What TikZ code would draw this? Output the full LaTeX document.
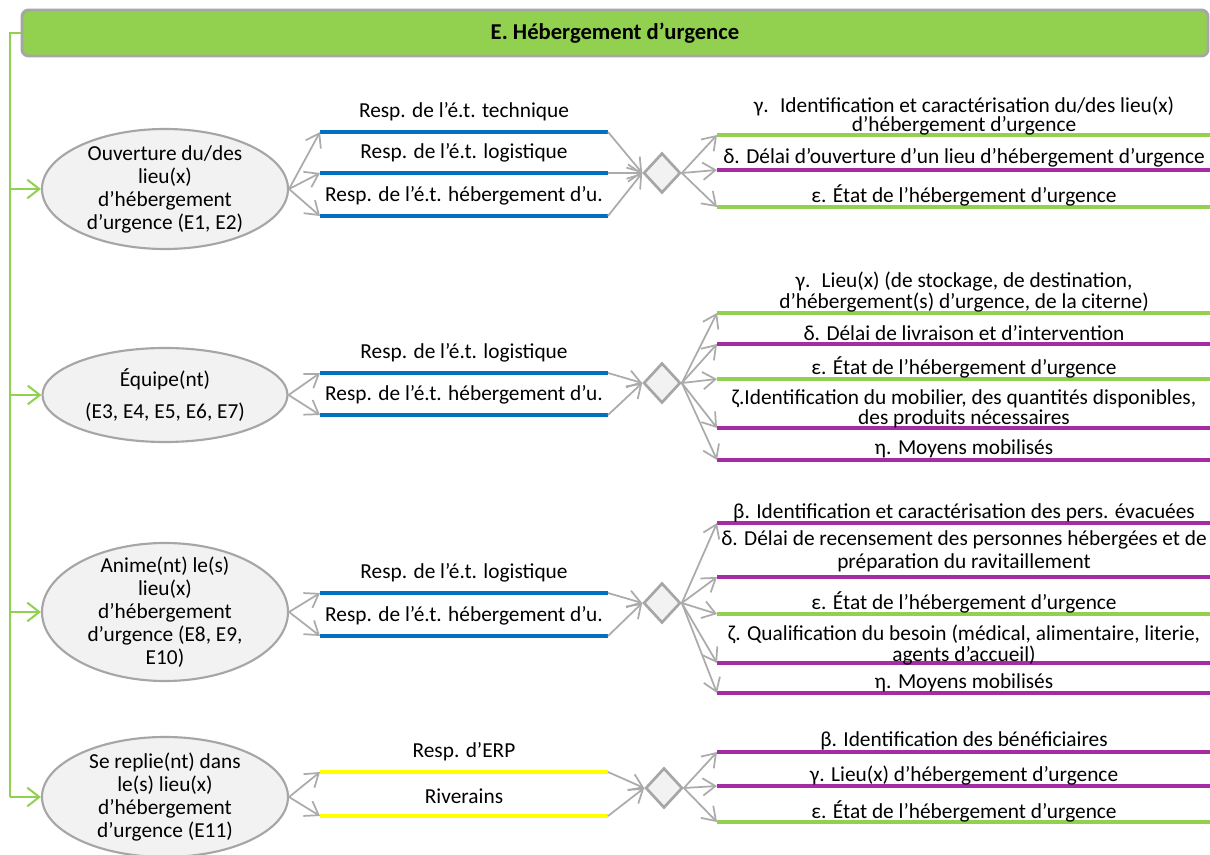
\documentclass[tikz,border=0pt]{standalone}
\usepackage{fontspec}
\setmainfont{Carlito}
\usetikzlibrary{shapes.geometric,arrows.meta}
\definecolor{hgreen}{HTML}{92D050}
\definecolor{hgray}{HTML}{A6A6A6}
\definecolor{agray}{HTML}{ABABAB}
\definecolor{efill}{HTML}{F2F2F2}
\definecolor{lblue}{HTML}{0070C0}
\definecolor{lpurple}{HTML}{A62CA6}
\definecolor{lyellow}{HTML}{FFFF00}
\tikzset{
 ell/.style={ellipse, draw=hgray, line width=1.6pt, fill=efill, inner sep=0pt},
 elbl/.style={align=center, font=\fontsize{16}{17.25}\selectfont},
 dia/.style={diamond, draw=hgray, line width=2pt, fill=efill, inner sep=0pt, minimum width=37*0.75pt, minimum height=40*0.75pt},
 arr/.style={draw=agray, line width=1.3pt, -{Straight Barb[length=9.5pt,width=13pt,line width=1.3pt]}},
 garr/.style={draw=hgreen, line width=1.5pt, -{Straight Barb[length=9pt,width=14pt]}},
 trunk/.style={draw=hgreen, line width=1.5pt},
 ul/.style={draw=#1, line width=2.3pt},
 ml/.style={font=\fontsize{16}{17}\selectfont, inner sep=0pt},
 rl/.style={align=center, font=\fontsize{16}{10.5}\selectfont, inner sep=0pt},
 hdr/.style={draw=hgray, line width=2.2pt, fill=hgreen, rounded corners=5pt, font=\bfseries\fontsize{17}{18}\selectfont},
}
% #1 name, #2 line y, #3 colour, #4 text
\newcommand\midrow[4]{%
 \coordinate (#1s) at (320,#2);
 \coordinate (#1e) at (608,#2);
 \draw[ul=#3] (#1s) -- (#1e);
 \node[ml] (#1t) at (464,#2-20) {#4};}
% #1 name, #2 line y, #3 colour, #4 label y, #5 text
\newcommand\rrow[5]{%
 \coordinate (#1s) at (717,#2);
 \coordinate (#1e) at (1210,#2);
 \draw[ul=#3] (#1s) -- (#1e);
 \node[rl] (#1t) at (964,#4) {#5};}
\begin{document}
\begin{tikzpicture}[x=0.75pt,y=-0.75pt]
\useasboundingbox (0,0) rectangle (1210,855);
\fill[white] (0,0) rectangle (1210,855);

\node[hdr, minimum width=1186*0.75pt, minimum height=46*0.75pt] (hdr) at (615,33) {E. Hébergement d’urgence};

% ellipses
\node[ell, minimum width=246*0.75pt, minimum height=120*0.75pt,
 label={[elbl]center:Ouverture du/des\\lieu(x)\\d’hébergement\\d’urgence (E1, E2)}] (e1) at (165,189) {};
\node[ell, minimum width=245*0.75pt, minimum height=94*0.75pt,
 label={[elbl]center:Équipe(nt)\\[6.75pt](E3, E4, E5, E6, E7)}] (e2) at (165,395) {};
\node[ell, minimum width=246*0.75pt, minimum height=138*0.75pt,
 label={[elbl]center:Anime(nt) le(s)\\lieu(x)\\d’hébergement\\d’urgence (E8, E9,\\E10)}] (e3) at (165,612) {};
\node[ell, minimum width=246*0.75pt, minimum height=120*0.75pt,
 label={[elbl]center:Se replie(nt) dans\\le(s) lieu(x)\\d’hébergement\\d’urgence (E11)}] (e4) at (165,797) {};

% green trunk
\coordinate (tr) at (10,33);
\draw[trunk] (hdr.west) -- (tr) -- (tr |- e4.west);
\draw[garr] (tr |- e1.west) -- (e1.west);
\draw[garr] (tr |- e2.west) -- (e2.west);
\draw[garr] (tr |- e3.west) -- (e3.west);
\draw[garr] (tr |- e4.west) -- (e4.west);

% diamonds
\node[dia] (d1) at (662,173) {};
\node[dia] (d2) at (662,383) {};
\node[dia] (d3) at (662,603) {};
\node[dia] (d4) at (664,788) {};

% group 1
\midrow{m1a}{132}{lblue}{Resp. de l’é.t. technique}
\midrow{m1b}{173}{lblue}{Resp. de l’é.t. logistique}
\midrow{m1c}{216}{lblue}{Resp. de l’é.t. hébergement d’u.}
\foreach \m in {m1a,m1b,m1c}{\draw[arr] (e1.east) -- (\m s); \draw[arr] (\m e) -- (d1.west);}
\rrow{r1a}{135}{hgreen}{116}{γ.~ Identification et caractérisation du/des lieu(x)\\d’hébergement d’urgence}
\rrow{r1b}{170}{lpurple}{158}{δ. Délai d’ouverture d’un lieu d’hébergement d’urgence}
\rrow{r1c}{207}{hgreen}{195}{ε. État de l’hébergement d’urgence}
\foreach \r in {r1a,r1b,r1c}{\draw[arr] (d1.east) -- (\r s);}

% group 2
\midrow{m2a}{373}{lblue}{Resp. de l’é.t. logistique}
\midrow{m2b}{415}{lblue}{Resp. de l’é.t. hébergement d’u.}
\foreach \m in {m2a,m2b}{\draw[arr] (e2.east) -- (\m s); \draw[arr] (\m e) -- (d2.west);}
\rrow{r2a}{313}{hgreen}{292}{γ.~ Lieu(x) (de stockage, de destination,\\d’hébergement(s) d’urgence, de la citerne)}
\rrow{r2b}{344}{lpurple}{333}{δ. Délai de livraison et d’intervention}
\rrow{r2c}{379}{hgreen}{367}{ε. État de l’hébergement d’urgence}
\rrow{r2d}{428}{lpurple}{409}{ζ.Identification du mobilier, des quantités disponibles,\\des produits nécessaires}
\rrow{r2e}{460}{lpurple}{449}{η. Moyens mobilisés}
\foreach \r in {r2a,r2b,r2c,r2d,r2e}{\draw[arr] (d2.east) -- (\r s);}

% group 3
\midrow{m3a}{593}{lblue}{Resp. de l’é.t. logistique}
\midrow{m3b}{636}{lblue}{Resp. de l’é.t. hébergement d’u.}
\foreach \m in {m3a,m3b}{\draw[arr] (e3.east) -- (\m s); \draw[arr] (\m e) -- (d3.west);}
\rrow{r3a}{523}{lpurple}{513}{β. Identification et caractérisation des pers. évacuées}
\rrow{r3b}{577}{lpurple}{551}{δ. Délai de recensement des personnes hébergées et de\\[2.5pt]préparation du ravitaillement}
\rrow{r3c}{614}{hgreen}{602}{ε. État de l’hébergement d’urgence}
\rrow{r3d}{663}{lpurple}{645}{ζ. Qualification du besoin (médical, alimentaire, literie,\\agents d’accueil)}
\rrow{r3e}{693}{lpurple}{683}{η. Moyens mobilisés}
\foreach \r in {r3a,r3b,r3c,r3d,r3e}{\draw[arr] (d3.east) -- (\r s);}

% group 4
\midrow{m4a}{772}{lyellow}{Resp. d’ERP}
\midrow{m4b}{816}{lyellow}{Riverains}
\foreach \m in {m4a,m4b}{\draw[arr] (e4.east) -- (\m s); \draw[arr] (\m e) -- (d4.west);}
\rrow{r4a}{752}{lpurple}{741}{β. Identification des bénéficiaires}
\rrow{r4b}{786}{lpurple}{776}{γ. Lieu(x) d’hébergement d’urgence}
\rrow{r4c}{822}{hgreen}{811}{ε. État de l’hébergement d’urgence}
\foreach \r in {r4a,r4b,r4c}{\draw[arr] (d4.east) -- (\r s);}
\end{tikzpicture}
\end{document}
